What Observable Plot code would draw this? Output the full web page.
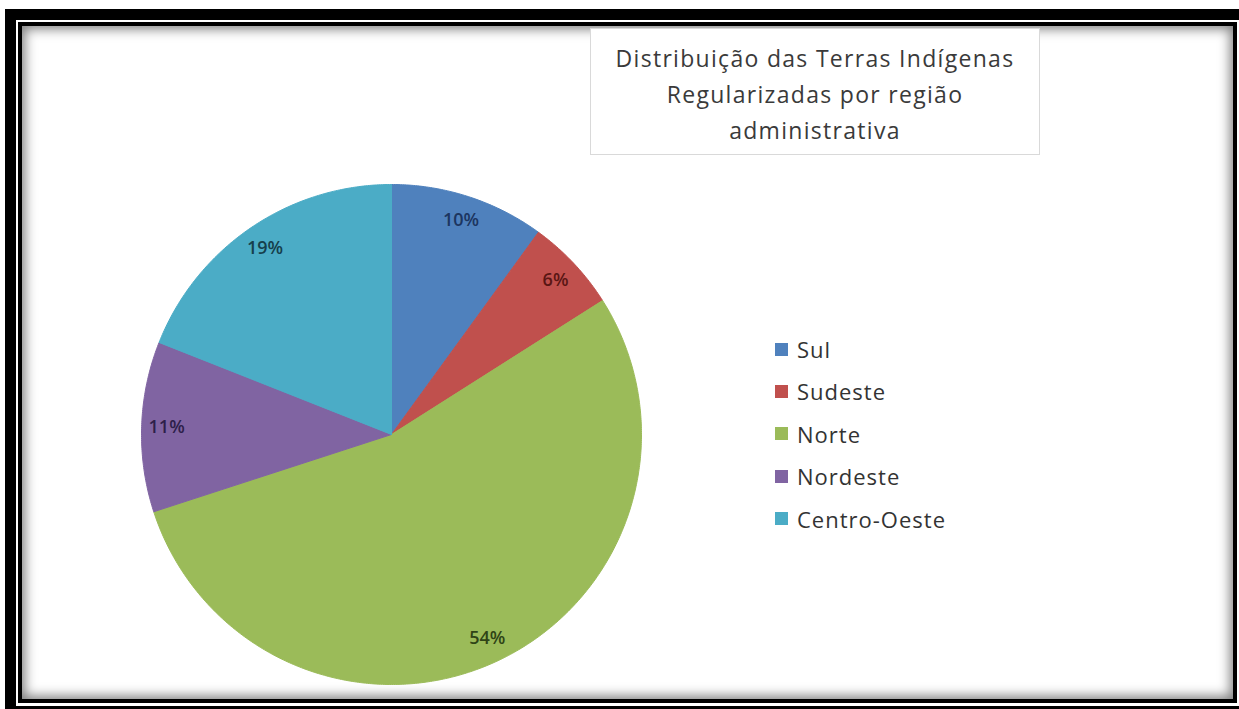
<!DOCTYPE html>
<html><head><meta charset="utf-8">
<script src="https://cdn.jsdelivr.net/npm/d3@7"></script>
<script src="https://cdn.jsdelivr.net/npm/@observablehq/plot@0.6"></script>
<style>
html,body{margin:0;padding:0;background:#fff;}
#stage{position:relative;width:1239px;height:709px;overflow:hidden;background:#fff;font-family:"Open Sans",Lato,sans-serif;}
.outer{position:absolute;left:5px;top:9px;width:1300px;height:800px;background:#000;}
.gap{position:absolute;left:16px;top:20px;width:1300px;height:686px;background:#fff;}
.inner{position:absolute;left:18px;top:22px;width:1219px;height:681px;box-sizing:border-box;border:4px solid #000;background:#fff;box-shadow:inset 0 0 12px 3px rgba(0,0,0,.5);}
#title{position:absolute;left:590px;top:28px;width:450px;height:127px;box-sizing:border-box;border:1px solid #d9d9d9;background:#fff;text-align:center;color:#3a3a3a;font-size:23px;letter-spacing:1.3px;line-height:36px;padding-top:11px;}
#pie{position:absolute;left:131px;top:174px;}
.lrow{position:absolute;left:775px;height:30px;display:flex;align-items:center;color:#333;font-size:22px;letter-spacing:1px;}
.sw{width:13px;height:13px;margin-right:9px;}
</style></head>
<body>
<div id="stage">
  <div class="outer"></div>
  <div class="gap"></div>
  <div class="inner"></div>
  <div id="title"></div>
  <div id="pie"></div>
  <div id="legend"></div>
</div>
<script>
const regions = ["Sul", "Sudeste", "Norte", "Nordeste", "Centro-Oeste"];
const shares = [10, 6, 54, 11, 19];
const pctLabels = ["10%", "6%", "54%", "11%", "19%"];
const titleLines = ["Distribuição das Terras Indígenas", "Regularizadas por região", "administrativa"];

const colors = ["#4F81BD", "#C0504D", "#9BBB59", "#8064A2", "#4BACC6"];
const labelColors = ["#1c3560", "#5a1614", "#2f4416", "#2e1f4a", "#163f4c"];

// title
document.getElementById("title").innerHTML = titleLines.map(t => `<div>${t}</div>`).join("");

// pie geometry from data
const R = 250, S = 520;
const arcs = d3.pie().sort(null).value(d => d)(shares);
const pts = [];
arcs.forEach((a, i) => {
  pts.push({region: regions[i], x: 0, y: 0});
  const n = Math.max(4, Math.ceil((a.endAngle - a.startAngle) / (Math.PI / 360)));
  for (let k = 0; k <= n; k++) {
    const t = a.startAngle + (a.endAngle - a.startAngle) * k / n;
    pts.push({region: regions[i], x: R * Math.sin(t), y: R * Math.cos(t)});
  }
  pts.push({region: regions[i], x: 0, y: 0});
});
const lbls = arcs.map((a, i) => {
  const m = (a.startAngle + a.endAngle) / 2;
  const rr = R * 0.9;
  return {x: rr * Math.sin(m), y: rr * Math.cos(m), text: pctLabels[i], i};
});

const chart = Plot.plot({
  width: S, height: S, margin: 0,
  x: {domain: [-S / 2, S / 2], axis: null},
  y: {domain: [-S / 2, S / 2], axis: null},
  color: {domain: regions, range: colors},
  style: {background: "transparent", overflow: "visible"},
  marks: [
    Plot.line(pts, {x: "x", y: "y", z: "region", fill: "region", stroke: "region", strokeWidth: 1}),
    ...lbls.map(l => Plot.text([l], {x: "x", y: "y", text: "text", fill: labelColors[l.i], fontSize: 18, fontWeight: 600, fontFamily: "Open Sans", letterSpacing: "0.3px"}))
  ]
});
document.getElementById("pie").appendChild(chart);

// legend
const lg = document.getElementById("legend");
regions.forEach((r, i) => {
  const row = document.createElement("div");
  row.className = "lrow";
  row.style.top = (334 + i * 42.4) + "px";
  row.innerHTML = `<span class="sw" style="background:${colors[i]}"></span><span>${r}</span>`;
  lg.appendChild(row);
});
</script>
</body></html>
